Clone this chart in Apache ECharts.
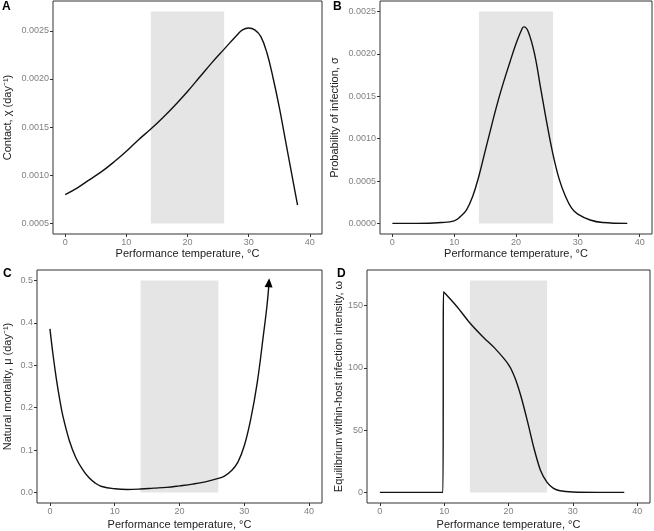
<!DOCTYPE html>
<html>
<head>
<meta charset="utf-8">
<script src="https://cdn.jsdelivr.net/npm/echarts@6/dist/echarts.min.js"></script>
<style>html,body{margin:0;padding:0;background:#fff}#c{width:654px;height:531px}</style>
</head>
<body>
<div id="c"></div>
<script>
// Panel A: contact
const aTemp = [0,2,4,6,8,10,12,14,16,18,20,22,24,26,28,29,30,31,32,33,34,35,36,37,38];
const aContact = [0.00080,0.00087,0.000955,0.00104,0.00114,0.00125,0.00137,0.00148,0.00160,0.00173,0.00187,0.00202,0.00217,0.00231,0.00245,0.00251,0.00253,0.00251,0.00244,0.00227,0.00201,0.00171,0.00137,0.00103,0.00069];
const aYTicks = [0.0005,0.0010,0.0015,0.0020,0.0025];
const aRect = [14,26,0.0005,0.0027];

// Panel B: probability of infection
const bTemp = [0,4,8,10,11,12,13,14,15,16,17,18,19,20,21,21.3,22,23,24,25,26,27,28,29,30,32,34,38];
const bInfection = [0,0,0.00001,0.00003,0.00008,0.00016,0.00032,0.00056,0.00085,0.00114,0.00142,0.00167,0.00190,0.00212,0.00230,0.00232,0.00226,0.00200,0.00159,0.00118,0.00081,0.00052,0.00032,0.00018,0.00011,0.00004,0.00001,0];
const bYTicks = [0,0.0005,0.0010,0.0015,0.0020,0.0025];
const bRect = [14,26,0,0.0025];

// Panel C: natural mortality
const cTemp = [0,0.5,1,1.5,2,3,4,5,6,7,8,10,12,14,16,18,20,22,24,26,27,28,29,30,31,32,33,33.5,33.8];
const cMortality = [0.386,0.322,0.267,0.220,0.180,0.122,0.082,0.055,0.035,0.022,0.014,0.0086,0.007,0.008,0.010,0.012,0.0155,0.0195,0.025,0.033,0.039,0.051,0.071,0.110,0.173,0.259,0.377,0.44,0.49];
const cYTicks = [0,0.1,0.2,0.3,0.4,0.5];
const cRect = [14,26,0,0.5];

// Panel D: equilibrium within-host infection intensity
const dTemp = [0,4,8,9.8,9.9,12,14,16,18,20,21,22,23,24,25,26,27,28,30,34,38];
const dIntensity = [0,0,0,0,161,149,136,125,115,102.6,92,76,56,34.6,17.3,8,3.2,1.3,0.3,0,0];
const dYTicks = [0,50,100,150];
const dRect = [14,26,0,170];

const xTicks = [0,10,20,30,40];
const xTitle = 'Performance temperature, \u00B0C';
const yTitles = ['Contact, \u03C7 (day\u207B\u00B9)','Probability of infection, \u03C3','Natural mortality, \u03BC (day\u207B\u00B9)','Equilibrium within-host infection intensity, \u03C9'];
const panelLetters = ['A','B','C','D'];

const FONT = '"Liberation Sans", Arial, sans-serif';
const grids = [
  {left:53, top:1, width:269, height:233},
  {left:380, top:1, width:272, height:233},
  {left:37, top:270, width:285, height:233},
  {left:367, top:270, width:283, height:234}
];
const xGap = [14,14,16,16];
const yCfg = [
  {min:0.00039, max:0.00281, ticks:aYTicks, fmt:v=>v.toFixed(4), gap:40},
  {min:-0.000125, max:0.002625, ticks:bYTicks, fmt:v=>v.toFixed(4), gap:40},
  {min:-0.025, max:0.525, ticks:cYTicks, fmt:v=>v.toFixed(1), gap:24},
  {min:-8.5, max:178.5, ticks:dYTicks, fmt:v=>String(v), gap:23}
];
const series = [[aTemp,aContact,aRect],[bTemp,bInfection,bRect],[cTemp,cMortality,cRect],[dTemp,dIntensity,dRect]];

const chart = echarts.init(document.getElementById('c'), null, {renderer:'canvas'});
const opt = {
  animation:false,
  backgroundColor:'#fff',
  title: panelLetters.map((t,i)=>({
    text:t,
    left:[2,333,3,337][i], top:[1,1,268,268][i],
    padding:0,
    textStyle:{fontFamily:FONT,fontWeight:'bold',fontSize:12,color:'#000'}
  })),
  grid: grids.map(g=>Object.assign({show:true,borderColor:'#333',borderWidth:1,backgroundColor:'transparent',containLabel:false},g)),
  xAxis: grids.map((g,i)=>({
    type:'value', gridIndex:i, min:-2, max:42, position:'bottom',
    name:xTitle, nameLocation:'middle', nameGap:xGap[i],
    nameTextStyle:{fontFamily:FONT,fontSize:11,color:'#222'},
    splitLine:{show:false},
    axisLine:{show:false,onZero:false},
    axisTick:{show:true,customValues:xTicks,length:3,lineStyle:{color:'#333'}},
    axisLabel:{customValues:xTicks,fontFamily:FONT,fontSize:9,color:'#808080',margin:4}
  })),
  yAxis: grids.map((g,i)=>({
    type:'value', gridIndex:i, min:yCfg[i].min, max:yCfg[i].max, position:'left',
    name:yTitles[i], nameLocation:'middle', nameGap:yCfg[i].gap,
    nameTextStyle:{fontFamily:FONT,fontSize:11,color:'#222'},
    splitLine:{show:false},
    axisLine:{show:false,onZero:false},
    axisTick:{show:true,customValues:yCfg[i].ticks,length:3,lineStyle:{color:'#333'}},
    axisLabel:{customValues:yCfg[i].ticks,formatter:yCfg[i].fmt,fontFamily:FONT,fontSize:9,color:'#808080',margin:4}
  })),
  series: series.map(([xs,ys,r],i)=>{
    const data = xs.map((x,k)=>[x,ys[k]]);
    if(i===2){
      const last = data.length-1;
      data[last] = {value:data[last], symbol:'triangle', symbolSize:[8,9], symbolOffset:[0,-2], symbolRotate:-4, itemStyle:{color:'#000'}};
    }
    return {
      type:'line', xAxisIndex:i, yAxisIndex:i, data:data,
      smooth: i===3 ? 0.25 : 0.4,
      symbol:'none', showSymbol: i===2,
      lineStyle:{color:'#111',width:1.4},
      markArea:{silent:true,itemStyle:{color:'#e5e5e5'},data:[[{xAxis:r[0],yAxis:r[2]},{xAxis:r[1],yAxis:r[3]}]]},
      z:3
    };
  })
};
chart.setOption(opt);
</script>
</body>
</html>
